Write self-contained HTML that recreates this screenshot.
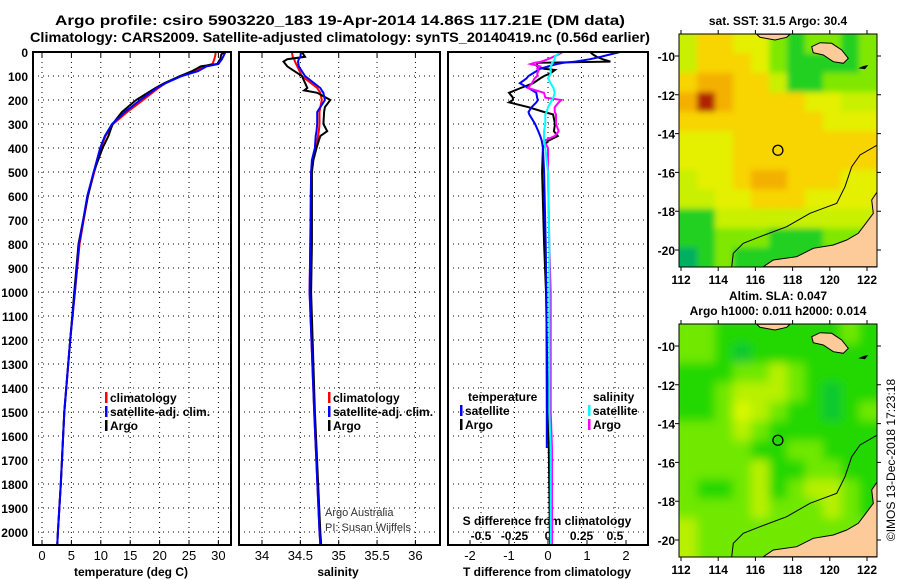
<!DOCTYPE html>
<html><head><meta charset="utf-8"><style>
body{margin:0;background:#fff}
svg{display:block;font-family:"Liberation Sans",Arial,sans-serif;font-weight:bold}
</style></head><body>
<svg id="s" width="900" height="580" viewBox="0 0 900 580">
<defs>
<clipPath id="cm1"><rect x="679" y="34" width="198" height="233"/></clipPath>
<clipPath id="cm2"><rect x="679" y="324" width="198" height="233"/></clipPath>
<filter id="bl"><feGaussianBlur stdDeviation="5"/></filter>
<filter id="bl2"><feGaussianBlur stdDeviation="3"/></filter>
</defs>
<text x="340" y="25" font-size="14" text-anchor="middle" textLength="570" lengthAdjust="spacingAndGlyphs">Argo profile: csiro 5903220_183 19-Apr-2014 14.86S 117.21E (DM data)</text>
<text x="340" y="42" font-size="14" text-anchor="middle" textLength="620" lengthAdjust="spacingAndGlyphs">Climatology: CARS2009. Satellite-adjusted climatology: synTS_20140419.nc (0.56d earlier)</text>
<text x="778" y="25" font-size="12" text-anchor="middle">sat. SST: 31.5 Argo: 30.4</text>
<text x="778" y="300" font-size="12" text-anchor="middle">Altim. SLA: 0.047</text>
<text x="778" y="315" font-size="12" text-anchor="middle">Argo h1000: 0.011 h2000: 0.014</text>
<text transform="translate(895,460) rotate(-90)" font-size="12" font-weight="normal" text-anchor="middle">©IMOS 13-Dec-2018 17:23:18</text>
<g id="g"></g>
</svg>
<script>
// ---- data ----
const tDepths=[0,10,30,50,60,80,100,130,150,200,250,300,350,400,500,600,700,800,1000,1200,1500,1800,2000,2050];
const tClim=[29.5,29.5,29.3,29,27.5,26,23.5,21,19.8,17.2,14.5,12.1,10.8,10.0,8.9,7.8,7.1,6.4,5.6,4.8,3.8,3.2,2.7,2.6];
const tSat=[31.2,31,30.6,30,28,26.5,23.8,21,19.5,16.7,14.1,11.9,10.7,9.9,8.8,7.7,7.0,6.3,5.6,4.8,3.8,3.2,2.7,2.6];
const tArgo=[31,30.5,30.3,29.8,27,25.5,23.5,20.8,19.3,16.0,13.6,12.0,11.3,10.3,8.8,7.8,7.0,6.2,5.5,4.8,3.8,3.2,2.7,2.6];
const sDepths=[0,20,30,40,60,100,150,160,170,200,230,250,300,330,350,400,450,500,800,1000,1500,2000,2050];
const sClim=[34.39,34.4,34.42,34.43,34.46,34.52,34.72,34.74,34.76,34.78,34.76,34.75,34.75,34.74,34.73,34.71,34.66,34.64,34.63,34.62,34.68,34.75,34.76];
const sSat=[34.51,34.5,34.48,34.47,34.48,34.56,34.76,34.78,34.8,34.82,34.76,34.72,34.72,34.71,34.70,34.69,34.65,34.64,34.63,34.62,34.68,34.75,34.76];
const sArgo=[34.52,34.56,34.33,34.28,34.33,34.52,34.59,34.55,34.72,34.89,34.82,34.81,34.8,34.85,34.76,34.71,34.67,34.65,34.65,34.64,34.69,34.76,34.77];
const dDepths=[0,10,20,30,40,45,50,60,70,75,90,100,110,130,150,170,190,200,210,230,250,260,300,330,350,370,400,500,800,1000,1500,1650,2050];
const dTArgo=[1.08,1.15,1.25,1.4,1.6,-0.28,-0.28,-0.28,-0.1,0.18,0.05,-0.1,-0.2,-0.38,-0.7,-1.0,-0.9,-0.9,-1.0,-0.5,-0.1,0.13,0.18,0.15,0.25,0,-0.13,-0.15,-0.1,-0.05,0,0.02,0.05];
const dTSat=[1.85,1.6,1.35,1.08,0.7,0.4,0.23,0.0,-0.2,-0.25,-0.4,-0.5,-0.55,-0.72,-0.5,-0.3,-0.28,-0.26,-0.3,-0.42,-0.5,-0.48,-0.33,-0.25,-0.2,-0.16,-0.13,-0.1,-0.06,-0.04,-0.03,-0.03];
const dSArgo=[0.11,0.08,0.04,0.0,-0.05,-0.1,-0.13,-0.06,-0.08,-0.07,-0.08,-0.08,-0.1,-0.12,-0.15,-0.03,-0.02,0.1,0.08,0.05,0.05,0.06,0.06,0.08,0.05,-0.03,0.0,0.0,0.01,0.02,0.02,0.03,0.03];
const dSSat=[0.09,0.07,0.05,0.05,0.04,0.03,0.03,0.02,0.02,0.02,0.02,0.01,0.0,0.02,0.04,0.05,0.04,0.03,0.02,0.0,-0.01,-0.02,-0.02,-0.03,-0.03,-0.03,-0.02,0.0,0.01,0.01,0.01,0.02,0.02];
const depthTicks=[0,100,200,300,400,500,600,700,800,900,1000,1100,1200,1300,1400,1500,1600,1700,1800,1900,2000];
const tTicks=[0,5,10,15,20,25,30];
const sTicks=[34,34.5,35,35.5,36];
const dtTicks=[-2,-1,0,1,2];
const dsTicks=[-0.5,-0.25,0,0.25,0.5];
const lonTicks=[112,114,116,118,120,122];
const latTicks=[-10,-12,-14,-16,-18,-20];
const sstGrid=[
[3,5,5,4,4,2,1,2,2,1,2],[3,5,5,5,4,2,1,1,1,1,2],[5,6,6,5,5,3,1,1,2,2,2],[6,8,6,5,5,5,5,4,4,3,3],
[5,5,5,5,5,5,5,5,4,4,4],[4,4,4,5,5,5,5,5,5,5,5],[4,4,4,5,5,5,5,5,5,5,5],[3,4,4,5,6,6,5,5,5,4,4],
[3,3,4,4,5,5,5,4,4,4,4],[1,1,3,3,3,3,3,3,3,3,3],[1,1,2,2,2,1,1,1,2,2,2],[0,1,2,1,1,1,1,1,1,1,1]];
const slaGrid=[
[2,2,1,1,1,1,1,1,1,2,1],[2,2,1,0,1,1,1,1,1,1,1],[1,1,1,2,2,3,2,1,1,1,1],[1,1,2,3,3,3,2,1,0,1,1],
[1,1,2,4,3,2,1,1,0,1,2],[2,2,2,3,2,1,1,1,1,1,1],[2,2,2,2,1,1,2,2,1,1,1],[2,2,2,2,3,1,1,2,2,1,1],
[2,1,1,2,3,1,2,3,3,2,1],[2,2,2,2,3,2,2,2,3,2,1],[3,2,2,2,2,2,2,2,2,2,2],[3,2,2,2,2,2,2,2,2,2,2]];
const floatLon=117.21, floatLat=-14.86;
// ---- drawing ----
const NS="http://www.w3.org/2000/svg",G=document.getElementById('g');
function el(t,a,p){const e=document.createElementNS(NS,t);for(const k in a)e.setAttribute(k,a[k]);(p||G).appendChild(e);return e;}
const yD=d=>52+d*0.24;
const xT=v=>42+v*5.88, xS=v=>262+(v-34)*76.7, xDT=v=>548+v*39, xDS=v=>548+v*134;
function grid(x0,x1,xs){
  let p='';
  depthTicks.forEach(d=>{p+=`M${x0},${yD(d)}H${x1}`;});
  xs.forEach(x=>{p+=`M${x},52V545`;});
  const g=el('path',{d:p,stroke:'#000','stroke-width':1,'stroke-dasharray':'1 4',fill:'none'});
  
  
}
function frame(x0,x1,name){
  const r=el('rect',{x:x0,y:52,width:x1-x0,height:493,fill:'none',stroke:'#000','stroke-width':2});
  
  
}
function txt(x,y,s,o,name){const t=el('text',Object.assign({x:x,y:y,'font-size':13},o||{}));t.textContent=s;
  
  return t;}
function line(ds,vs,xf,col,name,w){
  let p='';vs.forEach((v,i)=>{p+=(i?'L':'M')+xf(v).toFixed(1)+','+yD(ds[i]).toFixed(1);});
  const l=el('path',{d:p,stroke:col,'stroke-width':w||2,fill:'none'});
  
  
}
grid(33,231,tTicks.map(xT));grid(239,440,sTicks.map(xS));grid(448,648,dsTicks.map(xDS));
depthTicks.forEach(d=>txt(28,yD(d)+5,String(d),{'text-anchor':'end','font-size':12},'y-tick-label'));
tTicks.forEach(v=>{txt(xT(v),560,String(v),{'text-anchor':'middle','font-weight':'normal'},'x-tick-temperature');el('path',{d:`M${xT(v)},545v-5M${xT(v)},52v5`,stroke:'#000'});});
sTicks.forEach(v=>{txt(xS(v),560,String(v),{'text-anchor':'middle','font-weight':'normal'},'x-tick-salinity');el('path',{d:`M${xS(v)},545v-5M${xS(v)},52v5`,stroke:'#000'});});
dtTicks.forEach(v=>{txt(xDT(v),560,String(v),{'text-anchor':'middle','font-weight':'normal'},'x-tick-t-diff');el('path',{d:`M${xDT(v)},545v-5`,stroke:'#000'});});
dsTicks.forEach(v=>txt(xDS(v),540,String(v),{'text-anchor':'middle','font-size':12},'s-diff-tick'));
txt(131,576,'temperature (deg C)',{'text-anchor':'middle','font-size':12},'x-axis-title-temperature');
txt(338,576,'salinity',{'text-anchor':'middle','font-size':12},'x-axis-title-salinity');
txt(547,576,'T difference from climatology',{'text-anchor':'middle','font-size':12},'x-axis-title-t-diff');
txt(547,525,'S difference from climatology',{'text-anchor':'middle','font-size':12},'s-diff-axis-title');
line(tDepths,tClim,xT,'#f00','temp-climatology');line(tDepths,tArgo,xT,'#000','temp-argo');line(tDepths,tSat,xT,'#00f','temp-satellite');
line(sDepths,sClim,xS,'#f00','sal-climatology');line(sDepths,sArgo,xS,'#000','sal-argo');line(sDepths,sSat,xS,'#00f','sal-satellite');
line(dDepths,dTArgo,xDT,'#000','tdiff-argo');line(dDepths,dTSat,xDT,'#00f','tdiff-satellite');
line(dDepths,dSArgo,xDS,'#f0f','sdiff-argo');line(dDepths,dSSat,xDS,'#0ff','sdiff-satellite');
frame(33,231,'temperature-panel');frame(239,440,'salinity-panel');frame(448,648,'difference-panel');
function leg(x,y,col,s,name){const b=el('rect',{x:x,y:y-10,width:2.5,height:11,fill:col});
  
  txt(x+5,y,s,{'font-size':12},name);}
leg(105,402,'#f00','climatology','legend-climatology');leg(105,416,'#00f','satellite-adj. clim.','legend-satellite');leg(105,430,'#000','Argo','legend-argo');
leg(328,402,'#f00','climatology','legend-climatology-sal');leg(328,416,'#00f','satellite-adj. clim.','legend-satellite-sal');leg(328,430,'#000','Argo','legend-argo-sal');
txt(468,401,'temperature',{'font-size':12},'legend-temperature-heading');
leg(460,415,'#00f','satellite','legend-t-satellite');leg(460,429,'#000','Argo','legend-t-argo');
txt(593,401,'salinity',{'font-size':12},'legend-salinity-heading');
leg(588,415,'#0ff','satellite','legend-s-satellite');leg(588,429,'#f0f','Argo','legend-s-argo');
txt(325,516,'Argo Australia',{'font-size':11,'font-weight':'normal',fill:'#333'},'credit-argo-australia');
txt(325,531,'PI: Susan Wijffels',{'font-size':11,'font-weight':'normal',fill:'#333'},'credit-pi');
// maps
const sstCols=['#00b060','#20d020','#80e800','#c8f000','#e4f000','#f8d400','#f4b000','#d87010','#b02000'];
const slaCols=['#10c830','#20d800','#70e800','#b8f000','#d8f800'];
const xL=lon=>681+(lon-112)*18.6;
function map(top,gridv,cols,clip,name,filt){
  const yL=lat=>top+22+(-10-lat)*19.4;
  const g=el('g',{'clip-path':`url(#${clip})`});
  
  const inner=el('g',{filter:`url(#${filt})`},g);
  const cw=198/11, ch=233/12, pad=8;
  gridv.forEach((row,r)=>row.forEach((v,c)=>{
    const x0=679+c*cw-(c===0?pad:0), y0=top+r*ch-(r===0?pad:0);
    const w=cw+0.5+(c===0?pad:0)+(c===10?pad:0), h=ch+0.5+(r===0?pad:0)+(r===11?pad:0);
    el('rect',{x:x0,y:y0,width:w,height:h,fill:cols[v]},inner);
  }));
  const P=pts=>'M'+pts.map(p=>(660+p[0]/3).toFixed(1)+','+(top-34+p[1]/3).toFixed(1)).join('L');
  el('path',{d:P([[652,575],[635,600],[640,640],[610,680],[595,700],[560,720],[520,735],[460,745],[410,770],[340,780],[310,800],[652,800]])+'Z',fill:'#fdcb99',stroke:'#000','stroke-width':1},g);
  el('path',{d:P([[455,140],[480,128],[515,130],[545,150],[565,175],[550,190],[520,185],[490,165],[460,158]])+'Z',fill:'#fdcb99',stroke:'#000','stroke-width':1},g);
  el('path',{d:P([[290,103],[300,112],[345,120],[380,112],[390,103]])+'Z',fill:'#fdcb99',stroke:'#000','stroke-width':1},g);
  el('path',{d:P([[595,205],[610,198],[625,195],[615,208]])+'Z',fill:'#000'},g);
  el('path',{d:P([[652,435],[600,465],[575,500],[555,560],[530,610],[490,625],[450,640],[380,680],[300,710],[250,730],[220,760],[215,800]]),fill:'none',stroke:'#000','stroke-width':1},g);
  el('circle',{cx:xL(floatLon),cy:yL(floatLat),r:5,fill:'none',stroke:'#000','stroke-width':1.3});
  el('rect',{x:679,y:top,width:198,height:233,fill:'none',stroke:'#000','stroke-width':1});
  lonTicks.forEach(l=>{el('path',{d:`M${xL(l)},${top+233}v4M${xL(l)},${top}v-4`,stroke:'#000'});
    txt(xL(l),top+250,String(l),{'text-anchor':'middle','font-size':12},'map-lon-label');});
  latTicks.forEach(l=>{el('path',{d:`M679,${yL(l)}h-4M877,${yL(l)}h4`,stroke:'#000'});
    txt(675,yL(l)+5,String(l),{'text-anchor':'end','font-size':12},'map-lat-label');});
}
map(34,sstGrid,sstCols,'cm1','sst-map','bl2');
map(324,slaGrid,slaCols,'cm2','sla-map','bl');
</script>
</body></html>
